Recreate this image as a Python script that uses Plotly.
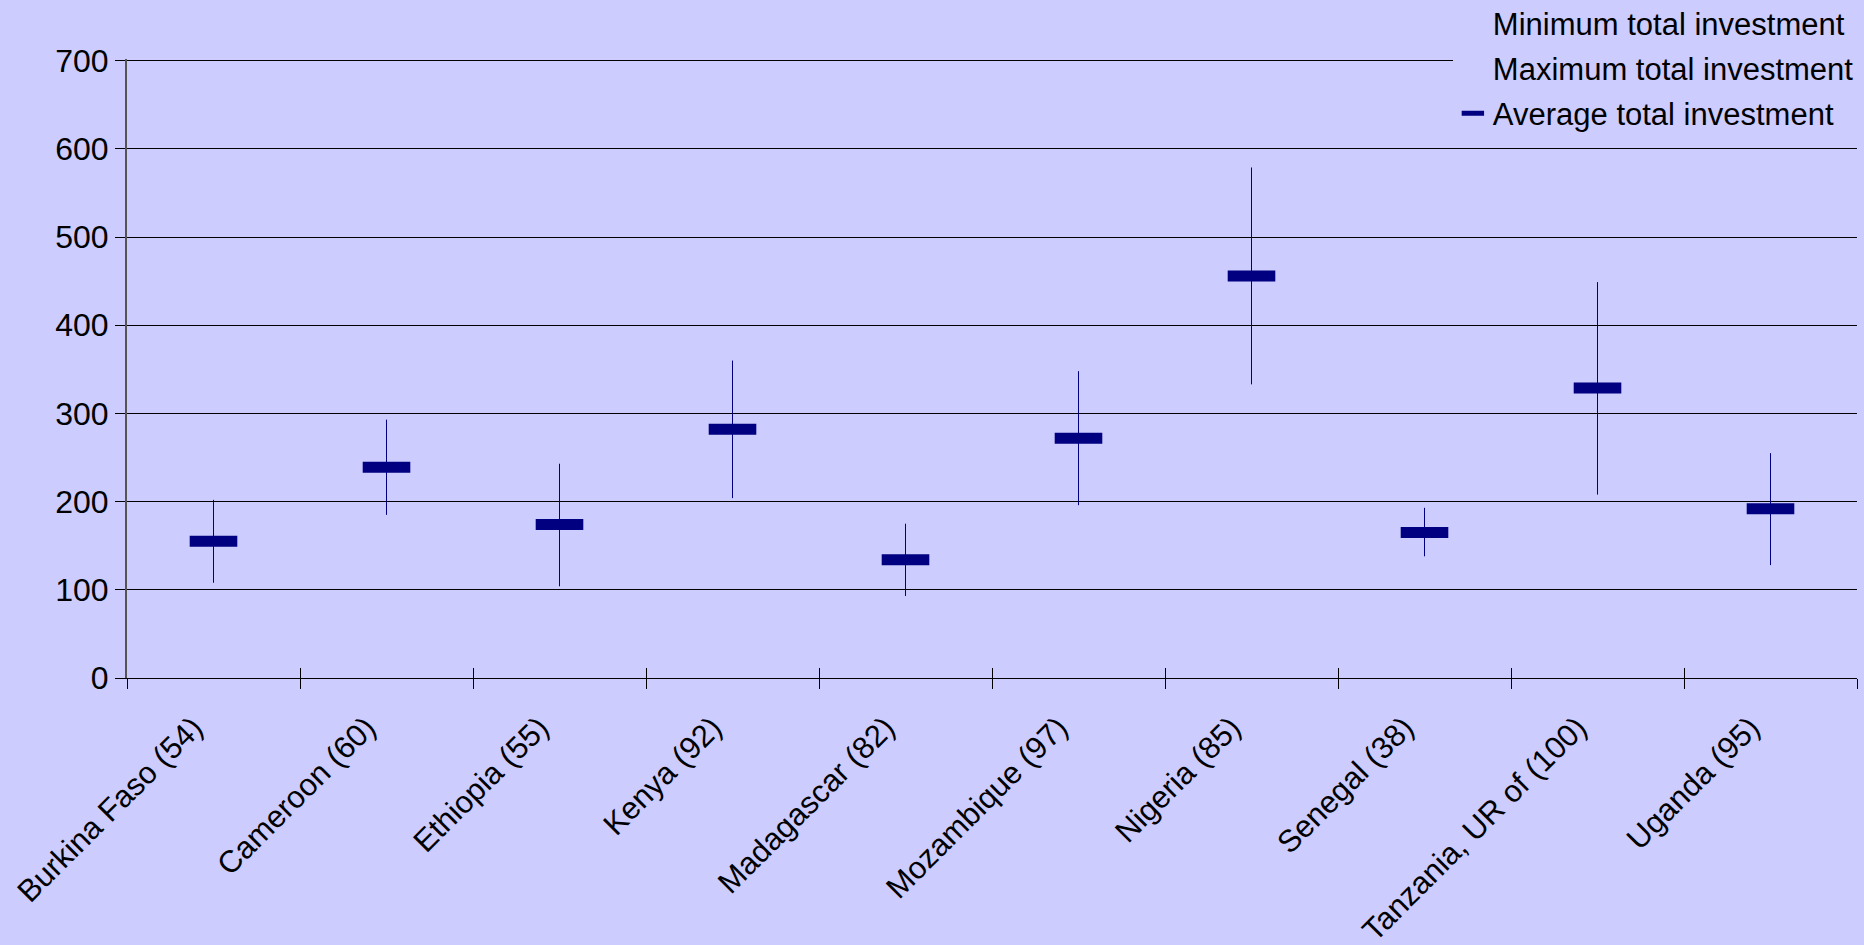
import plotly.graph_objects as go

countries = ["Burkina Faso (54)", "Cameroon (60)", "Ethiopia (55)", "Kenya (92)",
             "Madagascar (82)", "Mozambique (97)", "Nigeria (85)", "Senegal (38)",
             "Tanzania, UR of (100)", "Uganda (95)"]
min_invest = [108, 185, 104, 204, 93, 196, 333, 138, 208, 128]
max_invest = [202, 293, 243, 360, 175, 348, 579, 193, 449, 255]
avg_invest = [155, 239, 174, 282, 134, 272, 456, 165, 329, 192]
y_ticks = [0, 100, 200, 300, 400, 500, 600, 700]

BG = "#CCCCFF"
NAVY = "#000080"
FONT = "Liberation Sans, Arial, sans-serif"

# high-low connector lines built from min/max arrays
hl_x, hl_y = [], []
for c, lo, hi in zip(countries, min_invest, max_invest):
    hl_x += [c, c, None]
    hl_y += [lo, hi, None]

fig = go.Figure()
fig.add_trace(go.Scatter(x=hl_x, y=hl_y, mode="lines", line=dict(color=NAVY, width=1),
                         showlegend=False, hoverinfo="skip", xaxis="x2", yaxis="y2"))
fig.add_trace(go.Scatter(x=countries, y=min_invest, mode="none", name="Minimum total investment",
                         legendgroup="a"))
fig.add_trace(go.Scatter(x=countries, y=max_invest, mode="none", name="Maximum total investment",
                         legendgroup="b"))
fig.add_trace(go.Scatter(x=countries, y=avg_invest, mode="markers", name="Average total investment",
                         legendgroup="c",
                         marker=dict(symbol="line-ew", size=34, color=NAVY,
                                     line=dict(color=NAVY, width=11))))

fig.update_layout(
    width=1864, height=945,
    paper_bgcolor=BG, plot_bgcolor=BG,
    margin=dict(l=127, r=7, t=59, b=267, autoexpand=False),
    font=dict(family=FONT, size=32, color="#000000"),
    xaxis=dict(type="category", categoryarray=countries, range=[-0.5, 9.5],
               tickangle=-45, ticks="outside", tickson="boundaries", ticklen=10,
               tickcolor="#000000", showgrid=False, showline=True, linecolor="#000000",
               linewidth=1, zeroline=False, tickfont=dict(size=31, family=FONT),
               ticklabelstandoff=18, ticklabelshift=-20),
    xaxis2=dict(type="category", categoryarray=countries, range=[-0.5, 9.5],
                overlaying="x", ticks="inside", tickson="boundaries", ticklen=10,
                tickcolor="#000000", showticklabels=False, showgrid=False, showline=False,
                side="bottom"),
    yaxis=dict(range=[0, 702], tickvals=y_ticks, ticks="outside", ticklen=10,
               tickcolor="#000000", showgrid=True, gridcolor="#000000", gridwidth=1,
               showline=True, linecolor="#555555", linewidth=2, zeroline=False,
               tickfont=dict(size=32, family=FONT)),
    yaxis2=dict(range=[0, 702], tickvals=y_ticks, overlaying="y", ticks="inside", ticklen=10,
                tickcolor="#000000", showticklabels=False, showgrid=False, showline=False,
                side="left", zeroline=False),
    legend=dict(x=0.7664, y=1.1018, xanchor="left", yanchor="top",
                bgcolor=BG, borderwidth=0, font=dict(size=31, family=FONT),
                traceorder="grouped", tracegroupgap=2),
    showlegend=True,
)

fig.write_html("out.html", config={"displayModeBar": False},
               post_script="document.body.style.margin='0';document.body.style.overflow='hidden';")
